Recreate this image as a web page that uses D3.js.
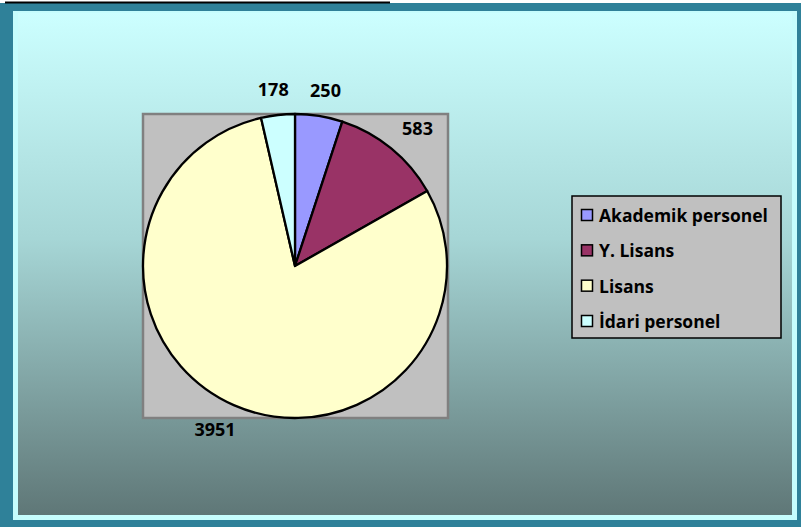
<!DOCTYPE html>
<html>
<head>
<meta charset="utf-8">
<script src="https://cdn.jsdelivr.net/npm/d3@7"></script>
<style>
  body { margin: 0; background: #fff; }
  svg { display: block; }
</style>
</head>
<body>
<svg id="chart" width="801" height="527"></svg>
<script>
const categories = ['Akademik personel', 'Y. Lisans', 'Lisans', 'İdari personel'];
const values = [250, 583, 3951, 178];
const colors = ['#9999ff', '#993366', '#ffffcc', '#ccffff'];

const W = 801, H = 527;
const svg = d3.select('#chart');
const FONT = '"Open Sans", Lato, sans-serif';

// background gradient
const defs = svg.append('defs');
const grad = defs.append('linearGradient')
  .attr('id', 'bg').attr('x1', 0).attr('y1', 0).attr('x2', 0).attr('y2', 1);
grad.append('stop').attr('offset', '0%').attr('stop-color', '#ccffff');
grad.append('stop').attr('offset', '45%').attr('stop-color', '#a6d6d6');
grad.append('stop').attr('offset', '100%').attr('stop-color', '#5f7777');

// outer frame
svg.append('rect').attr('x', 0).attr('y', 3).attr('width', W).attr('height', H - 3)
  .attr('fill', '#2f8199');
// cut-off title underline at top
svg.append('line').attr('x1', 5).attr('x2', 390).attr('y1', 2.5).attr('y2', 2.5)
  .attr('stroke', '#000').attr('stroke-width', 2);
svg.append('rect').attr('x', 13).attr('y', 11).attr('width', 784).attr('height', 509)
  .attr('fill', '#c6fdfd');
svg.append('rect').attr('x', 18).attr('y', 13).attr('width', 774).attr('height', 502)
  .attr('fill', 'url(#bg)');

// plot area
const plot = { x: 143, y: 114, w: 305, h: 304 };
svg.append('rect')
  .attr('x', plot.x).attr('y', plot.y).attr('width', plot.w).attr('height', plot.h)
  .attr('fill', '#c0c0c0').attr('stroke', '#808080').attr('stroke-width', 2.5);

const cx = 295, cy = 266, r = 152;
const pie = d3.pie().sort(null).value(d => d);
const arcs = pie(values);
const arc = d3.arc().innerRadius(0).outerRadius(r);
const labelArc = d3.arc().innerRadius(r + 26).outerRadius(r + 26);

const g = svg.append('g').attr('transform', `translate(${cx},${cy})`);
g.selectAll('path.slice').data(arcs).enter().append('path')
  .attr('class', 'slice')
  .attr('d', arc)
  .attr('fill', (d, i) => colors[i])
  .attr('stroke', '#000')
  .attr('stroke-width', 2.3)
  .attr('stroke-linejoin', 'round');

// labels sit outside, pushed sideways by half their width
g.selectAll('text.lbl').data(arcs).enter().append('text')
  .attr('class', 'lbl')
  .attr('text-anchor', 'middle')
  .attr('dominant-baseline', 'central')
  .attr('font-family', FONT).attr('font-weight', 'bold').attr('font-size', 18)
  .attr('fill', '#000')
  .text(d => d.value)
  .attr('transform', function(d) {
    const [x, y] = labelArc.centroid(d);
    const mid = (d.startAngle + d.endAngle) / 2;
    const w = this.getComputedTextLength();
    return `translate(${x + Math.sin(mid) * w / 2},${y})`;
  });

// legend
const lg = svg.append('g').attr('transform', 'translate(572,196)');
lg.append('rect').attr('width', 209).attr('height', 142)
  .attr('fill', '#c0c0c0').attr('stroke', '#000').attr('stroke-width', 1.5);
const rowY = d3.scalePoint().domain(categories).range([19, 125]);
const items = lg.selectAll('g.item').data(categories).enter().append('g')
  .attr('class', 'item')
  .attr('transform', d => `translate(0,${rowY(d)})`);
items.append('rect').attr('x', 9.5).attr('y', -5.5).attr('width', 11).attr('height', 11)
  .attr('fill', (d, i) => colors[i]).attr('stroke', '#000').attr('stroke-width', 1.5);
items.append('text').attr('x', 27).attr('y', 0)
  .attr('dominant-baseline', 'central')
  .attr('font-family', FONT).attr('font-weight', 'bold').attr('font-size', 17.5)
  .attr('fill', '#000')
  .text(d => d);
</script>
</body>
</html>
